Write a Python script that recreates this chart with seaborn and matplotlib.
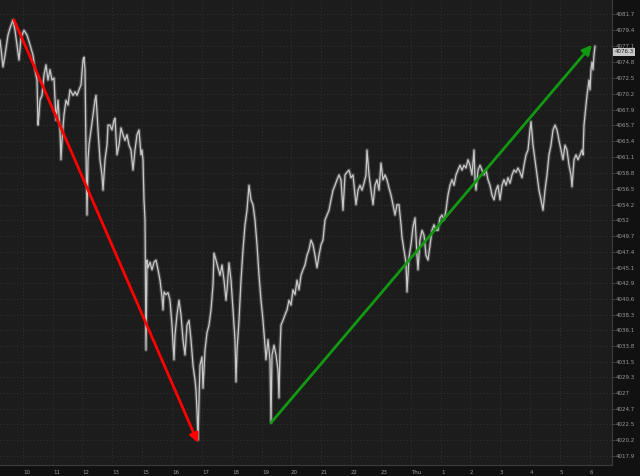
import matplotlib
matplotlib.use("Agg")
import matplotlib.pyplot as plt
import seaborn as sns
import pandas as pd

# bar index (2-min bars) and last price
bars = [0, 3, 5, 8, 10, 13, 15, 17, 19, 21, 24, 27, 30, 33, 35, 37, 38, 39, 40, 42,
        44, 46, 48, 50, 52, 54, 55, 56, 58, 60, 61, 62, 64, 66, 68, 70, 73, 75, 77, 79,
        81, 83, 84, 85, 86, 87, 88, 89, 91, 93, 95, 96, 98, 100, 102, 103, 105, 107, 108, 110,
        112, 114, 115, 117, 119, 121, 123, 125, 127, 129, 131, 133, 135, 137, 139, 141, 142, 143, 144, 145,
        146, 147, 148, 150, 152, 154, 156, 158, 160, 162, 163, 164, 166, 168, 170, 172, 174, 175, 177, 179,
        181, 183, 185, 187, 189, 191, 193, 195, 196, 197, 198, 199, 200, 202, 203, 205, 207, 209, 211, 213,
        214, 216, 218, 220, 222, 224, 226, 227, 229, 231, 233, 235, 236, 237, 239, 241, 243, 245, 247, 249,
        251, 253, 255, 257, 259, 261, 263, 265, 266, 268, 270, 271, 272, 274, 276, 278, 279, 280, 281, 283,
        285, 287, 289, 291, 293, 295, 297, 299, 301, 303, 305, 307, 309, 311, 313, 315, 317, 319, 321, 323,
        325, 327, 329, 331, 333, 335, 337, 339, 341, 343, 345, 347, 349, 351, 353, 355, 356, 358, 360, 362,
        364, 366, 367, 369, 371, 373, 375, 377, 379, 381, 383, 385, 387, 389, 391, 393, 395, 397, 399, 401,
        402, 404, 406, 407, 409, 411, 413, 415, 417, 418, 420, 422, 424, 426, 428, 430, 432, 434, 436, 438,
        440, 442, 444, 446, 448, 450, 452, 454, 456, 458, 460, 462, 464, 466, 468, 470, 472, 474, 475, 476,
        478, 480, 482, 484, 486, 488, 490, 492, 494, 496, 498, 500, 502, 504, 506, 508, 510, 512, 514, 516,
        518, 520, 522, 524, 526, 528, 530, 531, 533, 535, 537, 539, 541, 543, 545, 547, 549, 551, 553, 555,
        557, 559, 561, 563, 565, 567, 569, 571, 572, 574, 576, 578, 580, 582, 583, 584, 585, 586, 587, 589,
        590, 591, 592, 593, 594, 595]

prices = [4078.0, 4074.1, 4075.8, 4078.7, 4079.7, 4080.9, 4079.4, 4077.3, 4075.1, 4078.3,
          4079.4, 4078.7, 4077.3, 4075.8, 4073.7, 4072.2, 4065.7, 4067.2, 4069.3, 4070.0,
          4072.9, 4074.4, 4072.2, 4073.7, 4072.2, 4072.5, 4069.3, 4066.4, 4069.3, 4065.0,
          4060.7, 4063.5, 4067.2, 4069.3, 4068.6, 4070.8, 4070.0, 4070.5, 4070.0, 4070.8,
          4071.5, 4075.1, 4075.5, 4073.7, 4062.1, 4052.7, 4060.7, 4062.8, 4065.0, 4067.2,
          4069.3, 4070.0, 4065.0, 4060.7, 4058.5, 4056.3, 4060.7, 4062.8, 4065.7, 4065.7,
          4065.0, 4066.4, 4066.7, 4061.4, 4062.8, 4065.3, 4064.3, 4063.5, 4064.3, 4062.8,
          4062.1, 4059.2, 4062.1, 4064.3, 4065.0, 4061.4, 4062.1, 4060.7, 4054.9, 4052.0,
          4033.2, 4046.2, 4045.1, 4045.9, 4044.8, 4045.9, 4046.2, 4044.8, 4043.3, 4040.9,
          4039.0, 4041.6, 4041.2, 4041.5, 4040.4, 4036.8, 4031.8, 4035.4, 4038.3, 4040.4,
          4038.3, 4034.7, 4032.5, 4036.8, 4037.5, 4034.7, 4031.0, 4028.9, 4027.4, 4024.5,
          4020.2, 4026.0, 4031.0, 4032.2, 4027.7, 4033.2, 4035.7, 4036.8, 4039.0, 4042.6,
          4047.2, 4046.2, 4045.1, 4044.0, 4045.5, 4043.3, 4040.4, 4041.9, 4045.8, 4043.3,
          4039.0, 4034.7, 4028.6, 4033.2, 4037.5, 4043.3, 4047.7, 4051.3, 4053.4, 4057.0,
          4054.9, 4054.2, 4052.0, 4048.4, 4044.0, 4040.4, 4037.5, 4033.9, 4031.8, 4034.7,
          4031.8, 4022.7, 4032.5, 4033.9, 4032.5, 4030.3, 4026.3, 4033.2, 4036.8, 4037.5,
          4038.3, 4039.0, 4040.4, 4039.7, 4041.9, 4041.2, 4043.3, 4041.9, 4044.0, 4044.8,
          4045.5, 4046.9, 4047.7, 4049.1, 4048.4, 4046.9, 4045.1, 4046.9, 4048.4, 4049.1,
          4052.0, 4052.7, 4053.4, 4054.9, 4056.3, 4057.0, 4057.8, 4058.5, 4057.8, 4053.4,
          4058.5, 4058.9, 4059.2, 4058.1, 4058.5, 4055.6, 4054.2, 4056.3, 4057.0, 4056.3,
          4057.3, 4058.5, 4062.1, 4058.5, 4056.3, 4054.2, 4057.0, 4057.8, 4056.3, 4060.2,
          4057.8, 4058.5, 4057.8, 4056.6, 4055.6, 4054.2, 4052.7, 4054.2, 4054.2, 4051.3,
          4049.5, 4047.7, 4045.8, 4041.6, 4046.6, 4048.4, 4051.0, 4052.3, 4046.9, 4044.8,
          4049.1, 4050.5, 4049.8, 4046.9, 4046.2, 4048.4, 4050.5, 4051.3, 4050.5, 4050.5,
          4052.3, 4052.7, 4052.0, 4053.4, 4055.6, 4057.0, 4057.8, 4057.0, 4058.5, 4059.2,
          4059.9, 4059.2, 4059.9, 4059.5, 4060.7, 4059.9, 4058.5, 4062.1, 4057.8, 4056.3,
          4059.2, 4059.9, 4059.2, 4058.5, 4059.2, 4057.8, 4057.0, 4055.6, 4054.9, 4056.3,
          4057.0, 4054.9, 4057.0, 4057.8, 4057.0, 4058.1, 4057.3, 4058.5, 4059.2, 4058.9,
          4059.5, 4058.9, 4058.1, 4059.9, 4061.4, 4062.1, 4065.0, 4066.2, 4062.8, 4060.7,
          4058.5, 4056.3, 4054.9, 4053.4, 4056.3, 4058.5, 4061.4, 4062.8, 4065.0, 4065.7,
          4065.0, 4063.5, 4062.1, 4060.7, 4062.8, 4062.1, 4059.9, 4058.5, 4056.8, 4060.7,
          4061.4, 4060.7, 4061.4, 4062.1, 4061.4, 4065.7, 4067.2, 4068.6, 4070.0, 4072.2,
          4070.8, 4073.7, 4074.8, 4073.7, 4075.8, 4077.1]

tick_bars = [23, 53, 82, 112, 142, 172, 202, 232, 262, 291,
             321, 351, 381, 411, 441, 470, 500, 530, 560, 590]
tick_labels = ['10', '11', '12', '13', '15', '16', '17', '18', '19', '20',
               '21', '22', '23', 'Thu', '1', '2', '3', '4', '5', '6']
price_ticks = [4081.7, 4079.4, 4077.1, 4074.8, 4072.5, 4070.2, 4067.9, 4065.7, 4063.4, 4061.1,
               4058.8, 4056.5, 4054.2, 4052, 4049.7, 4047.4, 4045.1, 4042.9, 4040.6, 4038.3,
               4036.1, 4033.8, 4031.5, 4029.3, 4027, 4024.7, 4022.5, 4020.2, 4017.9]
last_price = 4076.3

# trend arrows (start bar, start price) -> (end bar, end price)
down_arrow = [(14, 4080.9), (198, 4019.8)]
up_arrow = [(271, 4022.7), (592, 4077.3)]

df = pd.DataFrame({"bar": bars, "price": prices})

sns.set_theme(style="dark", rc={
    "axes.facecolor": "#1c1c1c",
    "figure.facecolor": "#111111",
    "axes.edgecolor": "#3a3a3a",
    "text.color": "#9a9a9a",
    "xtick.color": "#9a9a9a",
    "ytick.color": "#9a9a9a",
})
plt.rcParams['font.family'] = ['DejaVu Sans']

fig = plt.figure(figsize=(6.4, 4.76), dpi=100)
ax = fig.add_axes([0, 11 / 476, 612 / 640, 465 / 476])

# soft band under the line to mimic the dense tick noise
sns.lineplot(data=df, x="bar", y="price", ax=ax, color="#9a9a9a", lw=2.6, alpha=0.35)
sns.lineplot(data=df, x="bar", y="price", ax=ax, color="#c8c8c8", lw=0.9)

ax.set_xlim(0, 612)
ax.set_ylim(4016.6, 4083.77)

ax.set_xticks(tick_bars)
ax.set_xticklabels(tick_labels, fontsize=4, ha="left")
ax.set_yticks(price_ticks)
ax.set_yticklabels([f"{v:g}" for v in price_ticks], fontsize=4)
ax.yaxis.tick_right()
ax.tick_params(axis="x", length=2, pad=1.5, width=0.5, color="#555555")
ax.tick_params(axis="y", length=2, pad=1, width=0.5, color="#555555")
ax.set_xlabel("")
ax.set_ylabel("")

ax.grid(True, color="#3a3a3a", lw=0.6, linestyle=(0, (1, 3)))
for side in ["left", "top"]:
    ax.spines[side].set_visible(False)
for side in ["right", "bottom"]:
    ax.spines[side].set_color("#3c3c3c")
    ax.spines[side].set_linewidth(0.8)

ax.annotate("", xy=down_arrow[1], xytext=down_arrow[0],
            arrowprops=dict(arrowstyle="-|>", color="#ff0000", lw=2,
                            mutation_scale=13, shrinkA=0, shrinkB=0))
ax.annotate("", xy=up_arrow[1], xytext=up_arrow[0],
            arrowprops=dict(arrowstyle="-|>", color="#119911", lw=2,
                            mutation_scale=14, shrinkA=0, shrinkB=0))

ax.text(1.004, last_price, f"{last_price}", transform=ax.get_yaxis_transform(),
        fontsize=4, color="#222222", va="center", ha="left",
        bbox=dict(boxstyle="square,pad=0.25", fc="#c8c8c8", ec="none"))

fig.savefig("out.png", dpi=100, facecolor=fig.get_facecolor())
